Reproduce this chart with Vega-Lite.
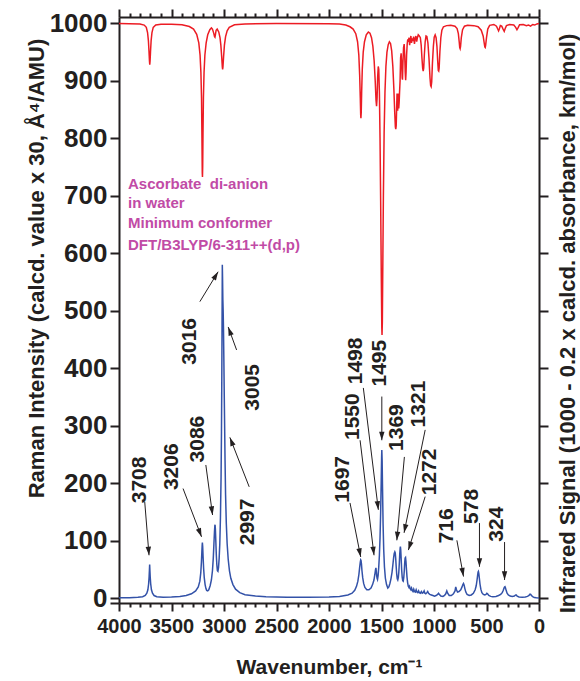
{
  "$schema": "https://vega.github.io/schema/vega-lite/v6.json",
  "width": 420,
  "height": 586,
  "autosize": {"type": "none"},
  "padding": {"left": 119, "top": 17, "right": 41, "bottom": 78},
  "background": "white",
  "config": {
    "view": {"stroke": null},
    "font": "Liberation Sans",
    "axis": {
      "grid": false,
      "domainColor": "#231f20",
      "domainWidth": 2,
      "tickColor": "#231f20",
      "tickWidth": 2,
      "labelFont": "Liberation Sans",
      "labelFontWeight": "bold",
      "labelColor": "#231f20",
      "titleFont": "Liberation Sans",
      "titleFontWeight": "bold",
      "titleColor": "#231f20",
      "labelOverlap": false,
      "labelFlush": false
    }
  },
  "datasets": {
    "raman": [
      {"w":4000,"v":1},{"w":3900,"v":1.2},{"w":3820,"v":2},{"w":3775,"v":3},{"w":3750,"v":5},{"w":3735,"v":9},{"w":3725,"v":15},{"w":3718,"v":25},{"w":3713,"v":38},{"w":3710,"v":50},{"w":3708,"v":59},{"w":3706,"v":50},{"w":3703,"v":38},{"w":3698,"v":25},{"w":3691,"v":15},{"w":3681,"v":9},{"w":3666,"v":5},{"w":3640,"v":3},{"w":3580,"v":2},{"w":3500,"v":2.3},{"w":3420,"v":3.5},{"w":3360,"v":5},{"w":3310,"v":8},{"w":3270,"v":13},{"w":3245,"v":20},{"w":3230,"v":30},{"w":3221,"v":45},{"w":3215,"v":63},{"w":3211,"v":80},{"w":3208,"v":92},{"w":3206,"v":97},{"w":3203,"v":90},{"w":3199,"v":72},{"w":3194,"v":52},{"w":3188,"v":36},{"w":3180,"v":24},{"w":3172,"v":17},{"w":3165,"v":14},{"w":3155,"v":13},{"w":3145,"v":15},{"w":3132,"v":22},{"w":3120,"v":32},{"w":3110,"v":48},{"w":3102,"v":70},{"w":3096,"v":95},{"w":3091,"v":115},{"w":3087,"v":127},{"w":3085,"v":128},{"w":3082,"v":120},{"w":3078,"v":100},{"w":3073,"v":75},{"w":3068,"v":58},{"w":3063,"v":48},{"w":3058,"v":47},{"w":3052,"v":54},{"w":3046,"v":70},{"w":3040,"v":95},{"w":3034,"v":140},{"w":3028,"v":210},{"w":3024,"v":290},{"w":3021,"v":380},{"w":3019,"v":460},{"w":3017,"v":540},{"w":3016,"v":580},{"w":3014,"v":560},{"w":3011,"v":520},{"w":3008,"v":500},{"w":3005,"v":470},{"w":3001,"v":410},{"w":2998,"v":360},{"w":2994,"v":300},{"w":2990,"v":240},{"w":2985,"v":180},{"w":2978,"v":130},{"w":2970,"v":95},{"w":2960,"v":68},{"w":2948,"v":48},{"w":2935,"v":35},{"w":2915,"v":24},{"w":2890,"v":16},{"w":2850,"v":10},{"w":2800,"v":6.5},{"w":2700,"v":4},{"w":2600,"v":3},{"w":2400,"v":2.2},{"w":2200,"v":2},{"w":2000,"v":2.5},{"w":1900,"v":3.5},{"w":1820,"v":6},{"w":1780,"v":9},{"w":1755,"v":14},{"w":1738,"v":21},{"w":1725,"v":30},{"w":1715,"v":42},{"w":1708,"v":54},{"w":1702,"v":63},{"w":1698,"v":67},{"w":1695,"v":66},{"w":1691,"v":60},{"w":1686,"v":48},{"w":1679,"v":36},{"w":1670,"v":26},{"w":1658,"v":19},{"w":1640,"v":15},{"w":1620,"v":15},{"w":1600,"v":18},{"w":1585,"v":24},{"w":1572,"v":32},{"w":1563,"v":42},{"w":1557,"v":50},{"w":1553,"v":53},{"w":1550,"v":48},{"w":1546,"v":40},{"w":1542,"v":35},{"w":1538,"v":33},{"w":1532,"v":40},{"w":1526,"v":55},{"w":1520,"v":75},{"w":1514,"v":105},{"w":1508,"v":150},{"w":1503,"v":200},{"w":1499,"v":245},{"w":1497,"v":258},{"w":1494,"v":240},{"w":1490,"v":190},{"w":1485,"v":130},{"w":1479,"v":85},{"w":1472,"v":55},{"w":1463,"v":35},{"w":1452,"v":24},{"w":1440,"v":18},{"w":1430,"v":20},{"w":1420,"v":26},{"w":1410,"v":34},{"w":1400,"v":45},{"w":1392,"v":58},{"w":1385,"v":70},{"w":1379,"v":78},{"w":1373,"v":81},{"w":1369,"v":79},{"w":1365,"v":70},{"w":1360,"v":55},{"w":1355,"v":42},{"w":1350,"v":34},{"w":1345,"v":32},{"w":1340,"v":36},{"w":1335,"v":46},{"w":1330,"v":62},{"w":1326,"v":78},{"w":1322,"v":88},{"w":1320,"v":90},{"w":1317,"v":85},{"w":1313,"v":70},{"w":1308,"v":50},{"w":1303,"v":37},{"w":1298,"v":31},{"w":1293,"v":30},{"w":1288,"v":36},{"w":1283,"v":48},{"w":1279,"v":62},{"w":1275,"v":70},{"w":1271,"v":71},{"w":1267,"v":64},{"w":1262,"v":50},{"w":1257,"v":37},{"w":1251,"v":27},{"w":1245,"v":21},{"w":1239,"v":19},{"w":1233,"v":21},{"w":1227,"v":17},{"w":1220,"v":15},{"w":1214,"v":18},{"w":1207,"v":14},{"w":1200,"v":12},{"w":1193,"v":16},{"w":1186,"v":12},{"w":1178,"v":11},{"w":1170,"v":15},{"w":1163,"v":11},{"w":1155,"v":10},{"w":1147,"v":13},{"w":1140,"v":10},{"w":1130,"v":9},{"w":1120,"v":12},{"w":1112,"v":9},{"w":1103,"v":10},{"w":1094,"v":13},{"w":1087,"v":9},{"w":1078,"v":8},{"w":1068,"v":10},{"w":1060,"v":12},{"w":1052,"v":9},{"w":1040,"v":7},{"w":1025,"v":6},{"w":1010,"v":5},{"w":995,"v":4},{"w":980,"v":5},{"w":965,"v":7},{"w":957,"v":9},{"w":950,"v":7},{"w":935,"v":4},{"w":915,"v":3.5},{"w":900,"v":5},{"w":888,"v":8},{"w":878,"v":13},{"w":870,"v":9},{"w":855,"v":5},{"w":835,"v":5},{"w":815,"v":8},{"w":800,"v":13},{"w":793,"v":20},{"w":786,"v":15},{"w":776,"v":11},{"w":762,"v":12},{"w":745,"v":15},{"w":733,"v":20},{"w":725,"v":24},{"w":719,"v":26},{"w":713,"v":23},{"w":706,"v":17},{"w":697,"v":11},{"w":685,"v":7},{"w":665,"v":5},{"w":645,"v":6},{"w":625,"v":9},{"w":608,"v":15},{"w":598,"v":22},{"w":590,"v":32},{"w":584,"v":41},{"w":580,"v":46},{"w":577,"v":47},{"w":573,"v":43},{"w":568,"v":35},{"w":562,"v":25},{"w":554,"v":16},{"w":544,"v":10},{"w":530,"v":7},{"w":516,"v":6},{"w":505,"v":7},{"w":497,"v":9},{"w":490,"v":8},{"w":478,"v":5},{"w":460,"v":3.5},{"w":440,"v":3},{"w":410,"v":3.5},{"w":385,"v":5},{"w":365,"v":7},{"w":350,"v":10},{"w":340,"v":14},{"w":333,"v":18},{"w":328,"v":20},{"w":324,"v":20.5},{"w":319,"v":18},{"w":313,"v":14},{"w":304,"v":9},{"w":292,"v":6},{"w":275,"v":4},{"w":255,"v":3.5},{"w":235,"v":4},{"w":222,"v":6},{"w":216,"v":6},{"w":208,"v":4},{"w":190,"v":2.5},{"w":160,"v":2},{"w":130,"v":2.5},{"w":110,"v":3.5},{"w":95,"v":5},{"w":88,"v":7},{"w":80,"v":7},{"w":72,"v":5},{"w":60,"v":3},{"w":45,"v":1.5},{"w":25,"v":1},{"w":0,"v":0.5}
    ],
    "ir": [
      {"w":4000,"v":999.5},{"w":3900,"v":999.4},{"w":3800,"v":998.8},{"w":3760,"v":997},{"w":3740,"v":993},{"w":3728,"v":984},{"w":3720,"v":970},{"w":3714,"v":950},{"w":3710,"v":935},{"w":3707,"v":928},{"w":3704,"v":935},{"w":3700,"v":950},{"w":3694,"v":970},{"w":3686,"v":984},{"w":3674,"v":993},{"w":3650,"v":997},{"w":3600,"v":998.5},{"w":3500,"v":998.6},{"w":3400,"v":997.5},{"w":3330,"v":994.5},{"w":3290,"v":990},{"w":3260,"v":981},{"w":3240,"v":966},{"w":3228,"v":945},{"w":3220,"v":915},{"w":3214,"v":870},{"w":3210,"v":800},{"w":3207,"v":740},{"w":3205,"v":733},{"w":3203,"v":750},{"w":3200,"v":810},{"w":3196,"v":870},{"w":3190,"v":915},{"w":3182,"v":945},{"w":3170,"v":966},{"w":3155,"v":980},{"w":3135,"v":989},{"w":3120,"v":992},{"w":3110,"v":990},{"w":3098,"v":983},{"w":3090,"v":977},{"w":3086,"v":976},{"w":3082,"v":980},{"w":3075,"v":988},{"w":3065,"v":990},{"w":3050,"v":985},{"w":3038,"v":975},{"w":3030,"v":962},{"w":3022,"v":942},{"w":3016,"v":924},{"w":3013,"v":920},{"w":3010,"v":924},{"w":3004,"v":942},{"w":2996,"v":962},{"w":2985,"v":977},{"w":2970,"v":987},{"w":2950,"v":993},{"w":2900,"v":997.5},{"w":2800,"v":999},{"w":2500,"v":999.5},{"w":2000,"v":999.4},{"w":1900,"v":998.8},{"w":1840,"v":997},{"w":1800,"v":994},{"w":1770,"v":990},{"w":1745,"v":982},{"w":1728,"v":968},{"w":1716,"v":945},{"w":1708,"v":910},{"w":1702,"v":870},{"w":1698,"v":840},{"w":1696,"v":835},{"w":1693,"v":845},{"w":1689,"v":880},{"w":1683,"v":920},{"w":1674,"v":950},{"w":1662,"v":968},{"w":1645,"v":980},{"w":1625,"v":985},{"w":1610,"v":983},{"w":1595,"v":975},{"w":1582,"v":960},{"w":1570,"v":935},{"w":1560,"v":900},{"w":1552,"v":866},{"w":1547,"v":856},{"w":1542,"v":870},{"w":1537,"v":905},{"w":1531,"v":925},{"w":1526,"v":920},{"w":1520,"v":880},{"w":1514,"v":800},{"w":1508,"v":690},{"w":1502,"v":560},{"w":1497,"v":470},{"w":1495,"v":458},{"w":1492,"v":480},{"w":1488,"v":570},{"w":1482,"v":700},{"w":1475,"v":810},{"w":1467,"v":880},{"w":1458,"v":925},{"w":1448,"v":950},{"w":1436,"v":963},{"w":1425,"v":968},{"w":1414,"v":965},{"w":1403,"v":952},{"w":1392,"v":925},{"w":1382,"v":885},{"w":1374,"v":845},{"w":1368,"v":820},{"w":1364,"v":816},{"w":1360,"v":822},{"w":1356,"v":850},{"w":1352,"v":878},{"w":1349,"v":870},{"w":1346,"v":848},{"w":1343,"v":865},{"w":1340,"v":878},{"w":1336,"v":852},{"w":1332,"v":862},{"w":1328,"v":880},{"w":1323,"v":900},{"w":1318,"v":940},{"w":1313,"v":948},{"w":1308,"v":930},{"w":1303,"v":905},{"w":1300,"v":902},{"w":1296,"v":930},{"w":1290,"v":958},{"w":1284,"v":964},{"w":1279,"v":945},{"w":1274,"v":915},{"w":1270,"v":901},{"w":1266,"v":915},{"w":1261,"v":945},{"w":1255,"v":965},{"w":1250,"v":972},{"w":1244,"v":968},{"w":1238,"v":975},{"w":1232,"v":962},{"w":1226,"v":972},{"w":1220,"v":978},{"w":1214,"v":966},{"w":1208,"v":974},{"w":1200,"v":969},{"w":1194,"v":977},{"w":1186,"v":964},{"w":1180,"v":973},{"w":1172,"v":978},{"w":1165,"v":968},{"w":1158,"v":975},{"w":1150,"v":980},{"w":1140,"v":978},{"w":1130,"v":975},{"w":1122,"v":962},{"w":1115,"v":940},{"w":1108,"v":922},{"w":1103,"v":917},{"w":1098,"v":922},{"w":1092,"v":945},{"w":1084,"v":968},{"w":1076,"v":978},{"w":1068,"v":977},{"w":1058,"v":966},{"w":1048,"v":940},{"w":1038,"v":905},{"w":1032,"v":892},{"w":1027,"v":890},{"w":1022,"v":898},{"w":1015,"v":930},{"w":1006,"v":960},{"w":998,"v":976},{"w":989,"v":980},{"w":980,"v":975},{"w":972,"v":960},{"w":965,"v":935},{"w":959,"v":918},{"w":955,"v":917},{"w":951,"v":922},{"w":944,"v":950},{"w":935,"v":975},{"w":925,"v":988},{"w":910,"v":994},{"w":880,"v":996},{"w":840,"v":996.5},{"w":800,"v":995},{"w":780,"v":991},{"w":768,"v":982},{"w":760,"v":968},{"w":755,"v":958},{"w":751,"v":956},{"w":747,"v":960},{"w":740,"v":975},{"w":728,"v":989},{"w":710,"v":995},{"w":680,"v":996.5},{"w":620,"v":996},{"w":580,"v":994},{"w":550,"v":988},{"w":532,"v":978},{"w":522,"v":966},{"w":516,"v":959},{"w":512,"v":958},{"w":508,"v":962},{"w":500,"v":975},{"w":488,"v":990},{"w":470,"v":996.5},{"w":430,"v":998},{"w":405,"v":995},{"w":395,"v":991},{"w":385,"v":987},{"w":378,"v":990},{"w":368,"v":996},{"w":355,"v":995},{"w":342,"v":990},{"w":331,"v":986},{"w":322,"v":991},{"w":310,"v":996},{"w":280,"v":998},{"w":240,"v":997},{"w":222,"v":993},{"w":210,"v":989},{"w":200,"v":992},{"w":185,"v":997.5},{"w":150,"v":998},{"w":120,"v":996},{"w":100,"v":997},{"w":80,"v":995},{"w":60,"v":998},{"w":40,"v":997},{"w":20,"v":999},{"w":0,"v":999.5}
    ],
    "peaks": [
      {"label":"3708","lx":3804,"ly":206,"x1":3755,"y1":168,"x2":3714,"y2":75},
      {"label":"3206","lx":3500,"ly":229,"x1":3390,"y1":191,"x2":3214,"y2":107},
      {"label":"3086","lx":3249,"ly":277,"x1":3173,"y1":232,"x2":3109,"y2":145},
      {"label":"3016","lx":3326,"ly":447,"x1":3230,"y1":516,"x2":3056,"y2":568},
      {"label":"3005","lx":2725,"ly":367,"x1":2880,"y1":432,"x2":2960,"y2":472},
      {"label":"2997","lx":2770,"ly":133,"x1":2760,"y1":194,"x2":2944,"y2":280},
      {"label":"1697","lx":1871,"ly":207,"x1":1800,"y1":166,"x2":1698,"y2":72},
      {"label":"1550","lx":1771,"ly":316,"x1":1704,"y1":275,"x2":1571,"y2":75},
      {"label":"1498","lx":1743,"ly":413,"x1":1673,"y1":366,"x2":1530,"y2":154},
      {"label":"1495","lx":1514,"ly":409,"x1":1497,"y1":351,"x2":1497,"y2":275},
      {"label":"1369","lx":1351,"ly":297,"x1":1282,"y1":246,"x2":1354,"y2":101},
      {"label":"1321","lx":1142,"ly":338,"x1":1084,"y1":293,"x2":1285,"y2":114},
      {"label":"1272","lx":1037,"ly":220,"x1":1084,"y1":177,"x2":1244,"y2":84},
      {"label":"716","lx":874,"ly":126,"x1":782,"y1":101,"x2":719,"y2":38},
      {"label":"578","lx":635,"ly":160,"x1":567,"y1":131,"x2":567,"y2":55},
      {"label":"324","lx":397,"ly":129,"x1":328,"y1":98,"x2":328,"y2":32}
    ],
    "notes": [
      {"t":"Ascorbate\u00a0 di-anion","w":3914,"v":720},
      {"t":"in water","w":3914,"v":687},
      {"t":"Minimum conformer","w":3914,"v":652},
      {"t":"DFT/B3LYP/6-311++(d,p)","w":3914,"v":614}
    ]
  },
  "resolve": {"axis": {"x": "independent", "y": "independent"}},
  "layer": [
    {
      "data": {"name": "raman"},
      "mark": {"type": "line", "color": "#3352a8", "strokeWidth": 1.5},
      "encoding": {
        "x": {
          "field": "w", "type": "quantitative",
          "scale": {"domain": [0, 4000], "reverse": true, "nice": false, "zero": false},
          "axis": {
            "orient": "bottom",
            "values": [0,100,200,300,400,500,600,700,800,900,1000,1100,1200,1300,1400,1500,1600,1700,1800,1900,2000,2100,2200,2300,2400,2500,2600,2700,2800,2900,3000,3100,3200,3300,3400,3500,3600,3700,3800,3900,4000],
            "format": "d",
            "labelExpr": "datum.value % 500 === 0 ? datum.label : ''",
            "tickSize": {"condition": {"test": "datum.value % 500 === 0", "value": 8}, "value": 4},
            "labelFontSize": 20,
            "labelPadding": 5,
            "title": "Wavenumber, cm\u207b\u00b9",
            "titleFontSize": 21,
            "titleX": 210,
            "titleY": 70,
            "titleBaseline": "alphabetic"
          }
        },
        "y": {
          "field": "v", "type": "quantitative",
          "scale": {"domain": [-8, 1011], "nice": false, "zero": false},
          "axis": {
            "orient": "left",
            "values": [-8,0,100,200,300,400,500,600,700,800,900,1000],
            "format": "d",
            "labelExpr": "datum.value < 0 ? '' : datum.label",
            "tickSize": 9,
            "labelFontSize": 26,
            "labelPadding": 3,
            "title": "Raman Intensity (calcd. value x 30, \u00c5\u2074/AMU)",
            "titleFontSize": 22,
            "titleAngle": 270,
            "titleX": -76,
            "titleY": 251,
            "titleAlign": "center",
            "titleBaseline": "alphabetic"
          }
        }
      }
    },
    {
      "data": {"name": "ir"},
      "mark": {"type": "line", "color": "#ec1c24", "strokeWidth": 1.5},
      "encoding": {
        "x": {
          "field": "w", "type": "quantitative",
          "axis": {
            "orient": "top",
            "values": [0,100,200,300,400,500,600,700,800,900,1000,1100,1200,1300,1400,1500,1600,1700,1800,1900,2000,2100,2200,2300,2400,2500,2600,2700,2800,2900,3000,3100,3200,3300,3400,3500,3600,3700,3800,3900,4000],
            "labels": false,
            "tickSize": {"condition": {"test": "datum.value % 500 === 0", "value": 8}, "value": 4},
            "title": null
          }
        },
        "y": {
          "field": "v", "type": "quantitative",
          "axis": {
            "orient": "right",
            "values": [0,100,200,300,400,500,600,700,800,900,1000],
            "labels": false,
            "tickSize": 9,
            "title": "Infrared Signal (1000 - 0.2 x calcd. absorbance, km/mol)",
            "titleFontSize": 22,
            "titleAngle": 270,
            "titleX": 35,
            "titleY": 306,
            "titleAlign": "center",
            "titleBaseline": "alphabetic"
          }
        }
      }
    },
    {
      "data": {"name": "peaks"},
      "mark": {"type": "rule", "color": "#231f20", "strokeWidth": 1},
      "encoding": {
        "x": {"field": "x1", "type": "quantitative", "axis": null},
        "y": {"field": "y1", "type": "quantitative", "axis": null},
        "x2": {"field": "x2"},
        "y2": {"field": "y2"}
      }
    },
    {
      "data": {"name": "peaks"},
      "transform": [
        {"calculate": "atan2((datum.x1 - datum.x2) * 0.105, (datum.y2 - datum.y1) * 0.5751) * 180 / PI", "as": "ang"}
      ],
      "mark": {"type": "point", "shape": "M0,0L-0.36,1.15L0.36,1.15Z", "filled": true, "color": "#231f20", "opacity": 1, "size": 225, "strokeWidth": 0},
      "encoding": {
        "x": {"field": "x2", "type": "quantitative", "axis": null},
        "y": {"field": "y2", "type": "quantitative", "axis": null},
        "angle": {"field": "ang", "type": "quantitative", "scale": null}
      }
    },
    {
      "data": {"name": "peaks"},
      "mark": {"type": "text", "angle": 270, "align": "center", "baseline": "middle", "font": "Liberation Sans", "fontSize": 21, "fontWeight": "bold", "color": "#231f20"},
      "encoding": {
        "x": {"field": "lx", "type": "quantitative", "axis": null},
        "y": {"field": "ly", "type": "quantitative", "axis": null},
        "text": {"field": "label"}
      }
    },
    {
      "data": {"name": "notes"},
      "mark": {"type": "text", "align": "left", "baseline": "middle", "font": "Liberation Sans", "fontSize": 15, "fontWeight": "bold", "color": "#c14ba6"},
      "encoding": {
        "x": {"field": "w", "type": "quantitative", "axis": null},
        "y": {"field": "v", "type": "quantitative", "axis": null},
        "text": {"field": "t"}
      }
    }
  ]
}
